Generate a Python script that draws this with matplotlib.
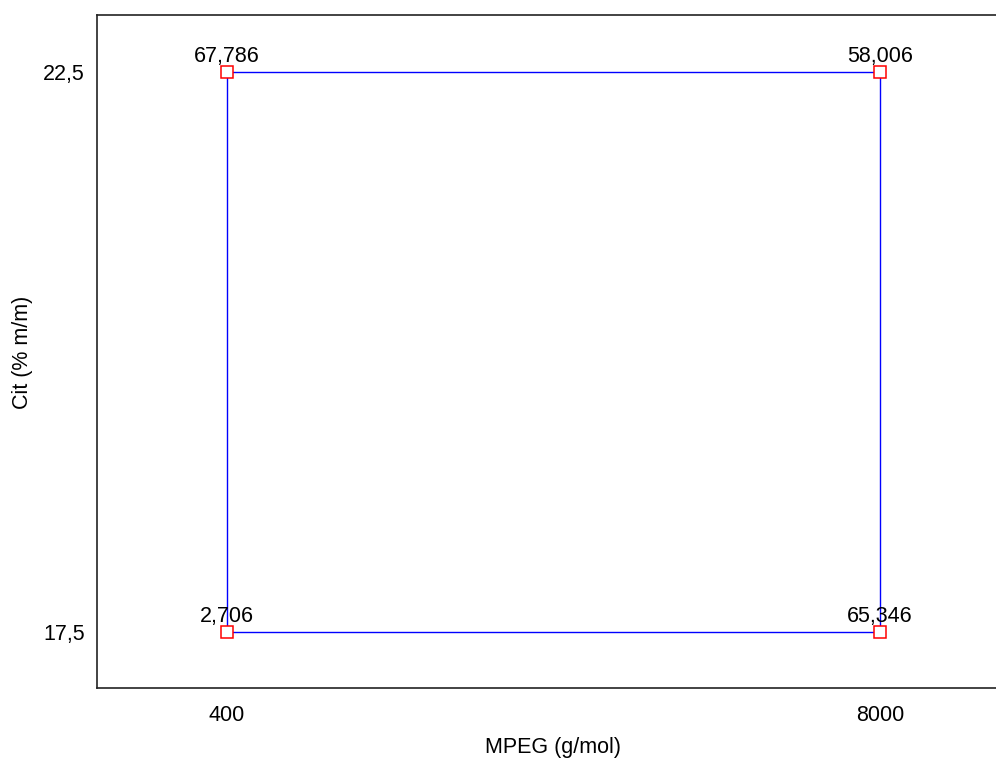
import matplotlib
matplotlib.use("Agg")
import matplotlib.pyplot as plt

# Data
mpeg = [400, 8000, 8000, 400]
cit = [22.5, 22.5, 17.5, 17.5]
responses = ["67,786", "58,006", "65,346", "2,706"]
xticks = [400, 8000]
xticklabels = ["400", "8000"]
yticks = [17.5, 22.5]
yticklabels = ["17,5", "22,5"]

plt.rcParams['font.family'] = ['Liberation Sans', 'DejaVu Sans']
fig = plt.figure(figsize=(9.96, 7.58), dpi=100)
W, H = 996, 758
ax = fig.add_axes([97 / W, 1 - 688 / H, (1000 - 97) / W, (688 - 15) / H])

FS = 15.5
# closed square path
xs = mpeg + [mpeg[0]]
ys = cit + [cit[0]]
ax.plot(xs, ys, color='#0000ff', lw=1.0, zorder=2)
ax.plot(mpeg, cit, linestyle='none', marker='s', markersize=8,
        markerfacecolor='white', markeredgecolor='#ff0000', markeredgewidth=1.1, zorder=3)
for x, y, t in zip(mpeg, cit, responses):
    ax.annotate(t, (x, y), xytext=(0, 7.2), textcoords='offset points',
                ha='center', va='baseline', fontsize=FS)

ax.set_xlim(-1113, 9350 + 4 / 0.0859)
ax.set_ylim(17.0, 23.009)
ax.set_xticks(xticks)
ax.set_xticklabels(xticklabels)
ax.set_yticks(yticks)
ax.set_yticklabels(yticklabels)
ax.tick_params(axis='both', length=0, labelsize=FS)
ax.tick_params(axis='x', pad=12)
ax.tick_params(axis='y', pad=8.6)
ax.spines['right'].set_visible(False)
for s in ['top', 'bottom', 'left']:
    ax.spines[s].set_linewidth(1.2)
    ax.spines[s].set_color('#222222')
ax.set_xlabel("MPEG (g/mol)", fontsize=FS)
ax.set_ylabel("Cit (% m/m)", fontsize=FS)
ax.xaxis.set_label_coords((553 - 97) / 903, (688 - 737) / 673)
ax.yaxis.set_label_coords((33 - 97) / 903, (688 - 352) / 673)

fig.savefig("out.png", dpi=100)
